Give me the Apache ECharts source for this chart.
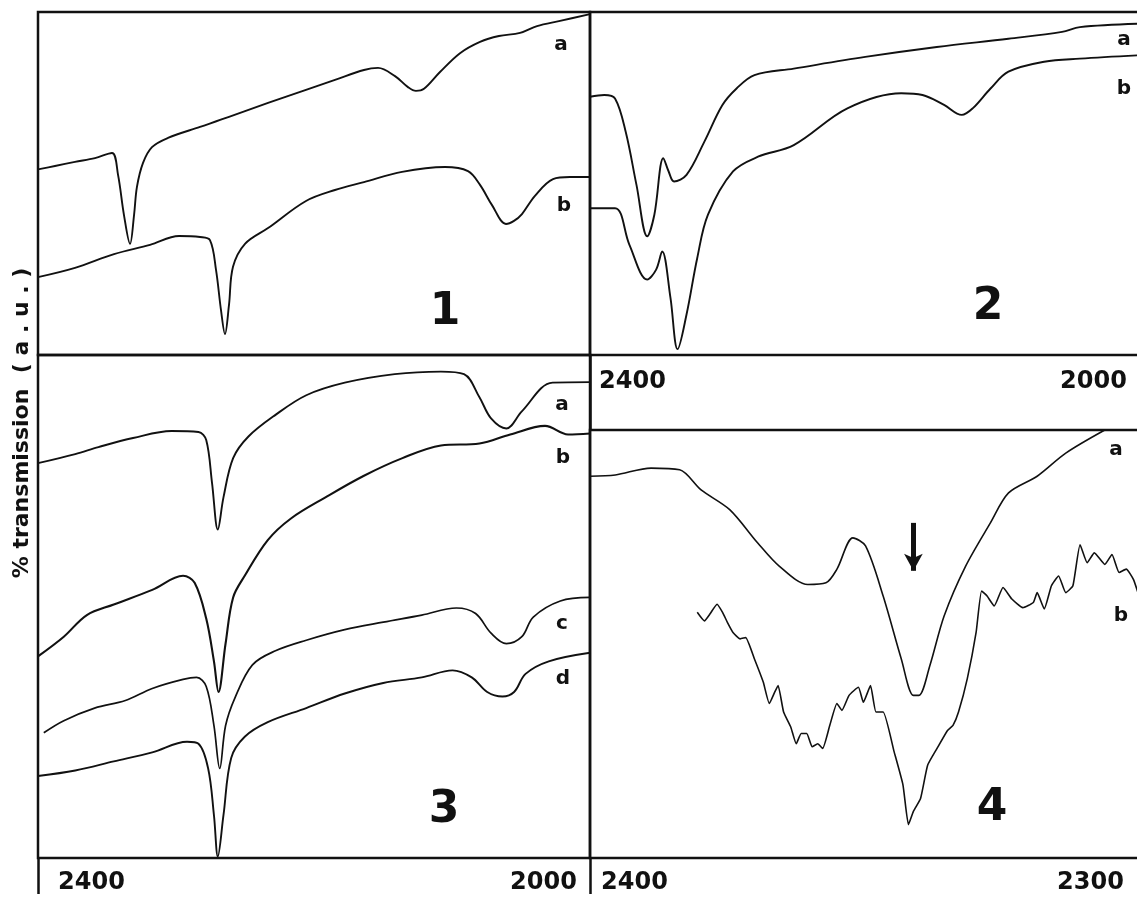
<!DOCTYPE html>
<html>
<head>
<meta charset="utf-8">
<title>IR spectra 1-4</title>
<script src="https://cdn.jsdelivr.net/npm/echarts@6/dist/echarts.min.js"></script>
<style>
  html, body { margin: 0; padding: 0; background: #fff; }
  #chart { width: 1137px; height: 899px; }
</style>
</head>
<body>
<div id="chart"></div>
<script>
// [wavenumber (cm-1), % transmission (a.u.)]
var p1a = [[2400.0,54.1],[2387.7,55.1],[2373.2,56.3],[2358.7,57.4],[2346.4,58.9],[2342.0,52.5],[2337.7,40.8],[2333.3,32.4],
  [2330.4,40.8],[2328.3,49.0],[2323.9,56.0],[2317.4,60.6],[2305.8,63.3],[2282.6,66.5],[2261.6,69.4],[2233.3,73.5],
  [2205.8,77.3],[2184.8,80.2],[2163.8,83.1],[2153.6,83.7],[2141.3,81.3],[2131.9,78.1],[2126.1,77.0],[2120.3,77.6],
  [2108.7,82.5],[2094.2,88.0],[2079.7,91.3],[2066.0,93.0],[2050.7,93.9],[2038.4,95.9],[2021.7,97.4],[2000.0,99.4]];
var p1b = [[2400.0,22.7],[2373.2,25.4],[2344.9,29.4],[2318.8,32.1],[2297.8,34.7],[2282.6,34.4],[2275.4,33.5],[2271.0,24.8],
  [2267.4,13.1],[2264.5,6.1],[2261.6,14.6],[2258.7,25.7],[2250.0,32.4],[2233.3,37.0],[2205.8,44.9],[2184.8,48.1],
  [2163.8,50.4],[2136.2,53.4],[2105.1,54.8],[2088.4,53.6],[2079.7,49.6],[2071.0,43.7],[2060.9,38.2],[2055.1,39.1],
  [2049.3,41.1],[2039.9,46.4],[2026.8,51.3],[2014.5,51.9],[2000.0,51.9]];

var p2a = [[2400.0,75.3],[2389.6,75.8],[2381.8,74.8],[2374.0,65.0],[2366.2,49.6],[2358.4,34.6],[2353.2,40.9],[2346.7,57.4],
  [2342.8,53.5],[2338.9,50.6],[2329.8,52.5],[2316.8,62.2],[2303.8,72.8],[2293.4,77.7],[2280.4,81.6],[2251.8,83.5],
  [2199.8,86.9],[2147.8,89.8],[2095.7,92.2],[2056.7,94.2],[2043.7,95.6],[2000.0,96.6]];
var p2b = [[2400.0,42.8],[2381.8,42.8],[2371.4,32.2],[2358.4,22.0],[2351.9,24.9],[2347.5,30.2],[2341.5,16.7],[2336.3,1.7],
  [2329.8,11.8],[2322.0,28.3],[2314.2,40.9],[2296.0,53.5],[2277.8,57.8],[2251.8,61.2],[2212.8,71.9],[2173.7,76.3],
  [2158.2,75.8],[2142.5,72.9],[2129.6,70.0],[2121.7,71.9],[2108.7,77.7],[2095.7,82.6],[2069.7,85.5],[2043.7,86.4],
  [2000.0,87.4]];

var p3a = [[2400.0,78.5],[2373.0,80.3],[2356.2,81.7],[2331.1,83.5],[2303.2,84.9],[2283.7,84.7],[2278.1,83.1],[2273.9,74.6],
  [2269.7,65.3],[2265.6,71.7],[2258.6,79.5],[2247.5,83.8],[2227.9,88.1],[2205.6,92.0],[2177.7,94.5],[2141.5,96.2],
  [2108.0,96.7],[2091.3,96.2],[2080.1,91.6],[2071.7,87.4],[2060.6,85.4],[2049.4,88.8],[2027.1,94.5],[2000.0,94.6]];
var p3b = [[2400.0,40.1],[2381.3,44.0],[2364.6,48.3],[2345.1,50.4],[2317.2,53.3],[2294.9,56.1],[2286.5,54.7],[2278.1,47.6],
  [2272.5,39.1],[2269.2,33.0],[2264.1,42.6],[2258.6,51.8],[2250.2,56.1],[2233.5,63.2],[2216.7,67.5],[2191.7,71.7],
  [2163.8,76.0],[2135.9,79.5],[2108.0,82.0],[2080.1,82.4],[2057.8,84.2],[2032.6,85.9],[2015.9,84.2],[2000.0,84.4]];
var p3c = [[2395.8,24.9],[2381.3,27.3],[2359.0,29.8],[2336.7,31.3],[2317.2,33.7],[2294.9,35.5],[2285.1,35.9],[2278.1,34.1],
  [2272.5,26.3],[2268.3,17.8],[2264.1,26.3],[2257.2,31.9],[2244.6,38.4],[2227.9,41.2],[2205.6,43.3],[2177.7,45.4],
  [2149.8,46.9],[2121.9,48.3],[2096.8,49.7],[2082.9,48.6],[2071.7,44.7],[2060.6,42.6],[2049.4,44.0],[2041.1,47.9],
  [2021.5,51.1],[2000.0,51.8]];
var p3d = [[2400.0,16.3],[2373.0,17.4],[2345.1,19.2],[2317.2,21.0],[2292.0,23.1],[2283.7,22.7],[2276.7,17.8],[2272.5,8.5],
  [2269.7,0.3],[2265.6,8.5],[2260.0,19.9],[2250.2,24.1],[2233.5,27.0],[2205.6,29.8],[2177.7,32.7],[2149.8,34.8],
  [2121.9,35.9],[2099.6,37.3],[2085.7,35.9],[2074.5,33.0],[2063.4,32.1],[2055.0,33.0],[2046.7,36.6],[2029.9,39.1],
  [2000.0,40.8]];

var p4a = [[2400.0,89.2],[2395.4,89.5],[2388.9,91.1],[2383.7,90.7],[2379.8,86.0],[2374.6,81.4],[2369.5,73.6],[2365.6,68.2],
  [2360.4,63.9],[2357.1,64.3],[2355.1,67.5],[2352.2,74.8],[2349.9,72.9],[2346.7,61.2],[2343.4,46.5],[2341.2,38.0],
  [2340.2,38.0],[2338.2,45.0],[2335.6,56.6],[2331.7,68.2],[2327.2,78.3],[2323.9,85.3],[2318.7,89.2],[2313.5,94.6],
  [2306.4,100.0]];
var p4b = [[2380.5,57.4],[2379.2,55.4],[2378.2,57.0],[2376.9,59.3],[2375.9,57.4],[2375.0,55.0],[2374.0,52.7],[2372.7,51.2],
  [2371.7,51.5],[2370.1,46.5],[2368.5,41.1],[2367.4,36.1],[2366.4,38.8],[2365.8,40.3],[2364.8,34.1],[2363.5,30.6],
  [2362.5,26.7],[2361.6,29.1],[2360.6,29.1],[2359.6,26.0],[2358.6,26.7],[2357.7,25.6],[2356.4,31.0],[2355.1,36.1],
  [2354.2,34.5],[2352.9,38.0],[2351.2,39.9],[2350.3,36.4],[2349.0,40.3],[2348.0,34.1],[2346.7,34.1],[2344.7,24.8],
  [2343.1,17.1],[2342.1,7.8],[2341.2,10.9],[2339.9,13.9],[2338.6,21.7],[2336.9,25.6],[2335.0,29.8],[2334.0,31.0],
  [2333.0,34.1],[2331.4,41.9],[2329.8,52.7],[2328.8,62.4],[2327.8,61.2],[2326.5,58.9],[2324.9,63.2],[2323.3,60.5],
  [2321.3,58.5],[2319.4,59.7],[2318.7,62.0],[2317.4,58.2],[2316.1,63.6],[2314.8,65.9],[2313.5,62.0],[2312.2,63.6],
  [2310.9,73.2],[2309.6,69.0],[2308.3,71.3],[2306.4,68.6],[2305.1,70.9],[2303.8,66.7],[2302.5,67.5],[2301.2,65.1],
  [2300.0,60.5]];

// arrow in panel 4: wavenumber, from, to
var arrow4 = [2341.2, 78.3, 67.1];

var ticksWide = [2400, 2000];
var ticksNarrow = [2400, 2300];
var traceLabels = ['a', 'b', 'c', 'd'];
var panelNames = ['1', '2', '3', '4'];

var ink = '#111';
var font = 'DejaVu Sans';

function xAx(grid, ticks, showLabel, tickLen, margin, padL, padR) {
  var hi = ticks[0], lo = ticks[1];
  return {
    type: 'value', gridIndex: grid, min: lo, max: hi, interval: hi - lo, inverse: true,
    axisLine: { show: false },
    splitLine: { show: false },
    axisTick: { show: tickLen > 0, length: tickLen, lineStyle: { color: ink, width: 2.5 } },
    axisLabel: {
      show: showLabel, margin: margin, showMinLabel: true, showMaxLabel: true,
      formatter: function (v) { return v === hi ? '{l|' + v + '}' : '{r|' + v + '}'; },
      rich: {
        l: { padding: [0, 0, 0, padL], fontFamily: font, fontWeight: 'bold', fontSize: 24, color: ink },
        r: { padding: [0, padR, 0, 0], fontFamily: font, fontWeight: 'bold', fontSize: 24, color: ink }
      }
    }
  };
}
function yAx(grid) {
  return { type: 'value', gridIndex: grid, min: 0, max: 100, show: false };
}
function trace(data, grid, w, sm) {
  return {
    type: 'line', xAxisIndex: grid, yAxisIndex: grid, data: data,
    symbol: 'none', smooth: sm, silent: true,
    lineStyle: { color: ink, width: w, join: 'round' }
  };
}
function txt(s, x, y, size) {
  return { type: 'text', x: x, y: y, style: { text: s, fontFamily: font, fontWeight: 'bold', fontSize: size, fill: ink, align: 'center', verticalAlign: 'middle' } };
}

var gridBase = { show: true, borderColor: ink, borderWidth: 2.5, backgroundColor: 'transparent', outerBoundsMode: 'none', containLabel: false };

var p4aSeries = trace(p4a, 3, 1.6, 0.3);
p4aSeries.markLine = {
  silent: true, symbol: ['none', 'arrow'], symbolSize: [14, 17], label: { show: false },
  lineStyle: { color: ink, width: 5, type: 'solid' },
  data: [[{ coord: [arrow4[0], arrow4[1]] }, { coord: [arrow4[0], arrow4[2]] }]]
};

var option = {
  animation: false,
  backgroundColor: '#fff',
  grid: [
    Object.assign({ left: 38, top: 12, width: 552, height: 343 }, gridBase),
    Object.assign({ left: 590, top: 12, width: 550, height: 343 }, gridBase),
    Object.assign({ left: 38, top: 355, width: 552, height: 503 }, gridBase),
    Object.assign({ left: 590, top: 430, width: 550, height: 428 }, gridBase)
  ],
  xAxis: [
    xAx(0, ticksWide, false, 0, 0, 0, 0),
    xAx(1, ticksWide, true, 75, 15, 85, 93),
    xAx(2, ticksWide, true, 36, 13, 107, 93),
    xAx(3, ticksNarrow, true, 36, 13, 89, 99)
  ],
  yAxis: [yAx(0), yAx(1), yAx(2), yAx(3)],
  series: [
    trace(p1a, 0, 1.9, 0.35), trace(p1b, 0, 1.9, 0.35),
    trace(p2a, 1, 1.9, 0.35), trace(p2b, 1, 1.9, 0.35),
    trace(p3a, 2, 1.9, 0.35), trace(p3b, 2, 2.1, 0.35), trace(p3c, 2, 1.7, 0.35), trace(p3d, 2, 1.9, 0.35),
    p4aSeries, trace(p4b, 3, 1.6, 0.15)
  ],
  graphic: [
    txt(traceLabels[0], 561, 45, 20), txt(traceLabels[1], 564, 206, 20),
    txt(traceLabels[0], 1124, 40, 20), txt(traceLabels[1], 1124, 89, 20),
    txt(traceLabels[0], 562, 405, 20), txt(traceLabels[1], 563, 458, 20),
    txt(traceLabels[2], 562, 624, 20), txt(traceLabels[3], 563, 679, 20),
    txt(traceLabels[0], 1116, 450, 20), txt(traceLabels[1], 1121, 616, 20),
    txt(panelNames[0], 445, 313, 44), txt(panelNames[1], 988, 308, 44),
    txt(panelNames[2], 444, 811, 44), txt(panelNames[3], 992, 809, 44),
    {
      type: 'text', x: 22, y: 423, rotation: Math.PI / 2,
      style: { text: '% transmission  ( a . u . )', fontFamily: font, fontWeight: 'bold', fontSize: 22, fill: ink, align: 'center', verticalAlign: 'middle' }
    }
  ]
};

var chart = echarts.init(document.getElementById('chart'));
chart.setOption(option);
</script>
</body>
</html>
